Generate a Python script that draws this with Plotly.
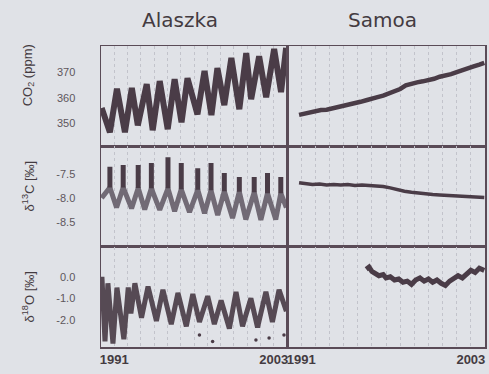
import plotly.graph_objects as go
from plotly.subplots import make_subplots

# ---------------- data ----------------
YEAR_TICKS = [1991, 2003]
CO2_TICKS = [350, 360, 370]
CO2_TICKTEXT = ["350", "360", "370"]
D13C_TICKS = [-8.5, -8.0, -7.5]
D13C_TICKTEXT = ["-8.5", "-8.0", "-7.5"]
D18O_TICKS = [-2.0, -1.0, 0.0]
D18O_TICKTEXT = ["-2.0", "-1.0", "0.0"]

STATIONS = ["Alaszka", "Samoa"]
ROW_TITLES = ["CO<sub>2</sub> (ppm)", "δ<sup>13</sup>C [‰]", "δ<sup>18</sup>O [‰]"]

# Alaska CO2 (ppm)
ALASKA_CO2_T = [1990.05, 1990.67, 1991.20, 1991.80, 1992.32, 1992.77, 1993.44, 1993.89,
                1994.42, 1995.02, 1995.54, 1996.06, 1996.51, 1997.26, 1997.79, 1998.31,
                1998.76, 1999.28, 1999.81, 2000.41, 2000.93, 2001.30, 2001.90, 2002.43,
                2003.03, 2003.55, 2003.93]
ALASKA_CO2 = [356.0, 346.5, 363.5, 346.5, 363.8, 349.2, 365.3, 347.3,
              366.5, 347.7, 367.2, 350.4, 367.6, 353.5, 370.4, 353.2,
              371.6, 357.1, 375.5, 355.5, 377.4, 359.4, 376.2, 360.2,
              379.0, 362.2, 379.5]

# Alaska d13C (per mil): seasonal band
ALASKA_D13C_T = [1990.05, 1990.67, 1991.17, 1991.67, 1992.30, 1992.80, 1993.29, 1993.79,
                 1994.42, 1995.04, 1995.54, 1996.04, 1996.66, 1997.28, 1997.79, 1998.28,
                 1998.78, 1999.28, 1999.90, 2000.41, 2000.90, 2001.53, 2002.03, 2002.53,
                 2003.15, 2003.53, 2003.95]
ALASKA_D13C = [-8.00, -7.78, -8.20, -7.78, -8.22, -7.79, -8.24, -7.80,
               -8.25, -7.80, -8.28, -7.82, -8.30, -7.83, -8.32, -7.84,
               -8.36, -7.86, -8.42, -7.87, -8.45, -7.88, -8.46, -7.90,
               -8.45, -7.90, -8.20]
# Alaska d13C summer spikes
ALASKA_SPIKE_T = [1990.67, 1991.67, 1992.80, 1993.79, 1995.04, 1996.04, 1997.28,
                  1998.28, 1999.28, 2000.41, 2001.53, 2002.53, 2003.53]
ALASKA_SPIKE_TOP = [-7.35, -7.31, -7.31, -7.27, -7.15, -7.27, -7.38,
                    -7.27, -7.48, -7.56, -7.56, -7.48, -7.56]
ALASKA_SPIKE_BASE = [-7.78, -7.78, -7.79, -7.80, -7.80, -7.82, -7.83,
                     -7.84, -7.86, -7.87, -7.88, -7.90, -7.90]

# Alaska d18O (per mil)
ALASKA_D18O_T = [1990.07, 1990.30, 1990.52, 1990.90, 1991.20, 1991.72, 1992.05, 1992.25,
                 1992.55, 1993.05, 1993.54, 1994.17, 1994.66, 1995.29, 1995.79, 1996.42,
                 1996.91, 1997.41, 1998.03, 1998.53, 1999.04, 1999.66, 2000.16, 2000.65,
                 2001.28, 2001.78, 2002.41, 2002.90, 2003.40, 2003.95]
ALASKA_D18O = [0.0, -3.0, -0.3, -3.1, -0.5, -2.9, -0.5, -1.7,
               -0.3, -1.9, -0.45, -2.05, -0.6, -2.2, -0.75, -2.3,
               -0.8, -2.1, -0.9, -2.2, -1.1, -2.4, -0.7, -2.3,
               -1.0, -2.35, -0.7, -2.1, -0.6, -1.6]
ALASKA_D18O_OUT_T = [1997.41, 1998.40, 2001.66, 2002.65, 2003.77]
ALASKA_D18O_OUT = [-2.7, -3.0, -2.93, -2.84, -2.7]

# Samoa CO2 (ppm)
SAMOA_CO2_T = [1990.85, 1991.2, 1991.6, 1992.0, 1992.4, 1992.8, 1993.2, 1993.6, 1994.0,
               1994.4, 1994.8, 1995.2, 1995.6, 1996.0, 1996.4, 1996.8, 1997.2, 1997.6,
               1998.0, 1998.4, 1998.8, 1999.2, 1999.6, 2000.0, 2000.4, 2000.8, 2001.2,
               2001.6, 2002.0, 2002.4, 2002.8, 2003.2, 2003.6, 2003.95]
SAMOA_CO2 = [353.3, 353.8, 354.2, 354.6, 355.2, 355.3, 355.8, 356.0, 356.6,
             357.3, 357.6, 358.4, 359.0, 359.8, 360.2, 360.8, 361.6, 362.3,
             363.4, 364.8, 365.6, 366.0, 366.4, 366.8, 367.4, 368.2, 368.6,
             369.2, 370.0, 370.6, 371.4, 372.2, 372.9, 373.6]

# Samoa d13C (per mil)
SAMOA_D13C_T = [1990.85, 1991.3, 1991.8, 1992.3, 1992.8, 1993.3, 1993.8, 1994.3, 1994.8,
                1995.3, 1995.8, 1996.3, 1996.8, 1997.3, 1997.8, 1998.3, 1998.8, 1999.3,
                1999.8, 2000.3, 2000.8, 2001.3, 2001.8, 2002.3, 2002.8, 2003.3, 2003.95]
SAMOA_D13C = [-7.68, -7.70, -7.72, -7.71, -7.73, -7.72, -7.73, -7.72, -7.74,
              -7.73, -7.74, -7.74, -7.76, -7.79, -7.83, -7.86, -7.88, -7.90,
              -7.92, -7.93, -7.94, -7.95, -7.96, -7.97, -7.97, -7.98, -7.99]

# Samoa d18O (per mil)
SAMOA_D18O_T = [1995.6, 1995.8, 1996.0, 1996.2, 1996.5, 1996.8, 1997.0, 1997.3, 1997.6,
                1997.9, 1998.2, 1998.5, 1998.8, 1999.1, 1999.4, 1999.7, 2000.0, 2000.3,
                2000.6, 2000.9, 2001.2, 2001.5, 2001.8, 2002.1, 2002.4, 2002.7, 2003.0,
                2003.3, 2003.6, 2003.95]
SAMOA_D18O = [0.35, 0.45, 0.25, 0.15, 0.05, 0.1, -0.05, 0.0, -0.15,
              -0.1, -0.25, -0.2, -0.35, -0.15, -0.05, -0.2, -0.1, -0.25,
              -0.15, -0.3, -0.4, -0.2, -0.05, 0.05, -0.05, 0.15, 0.3,
              0.2, 0.4, 0.3]

# ---------------- styling ----------------
BG = "#e0e2e7"
FRAME = "#5a4b57"
DARK = "#4a3c47"
BAND = "#716a75"
TEXT = "#443b41"

fig = make_subplots(rows=3, cols=2, horizontal_spacing=0, vertical_spacing=0,
                    column_widths=[187 / 386, 199 / 386])


def line(x, y, row, col, color=DARK, width=4.0):
    fig.add_trace(go.Scatter(x=x, y=y, mode="lines", showlegend=False,
                             line=dict(color=color, width=width, shape="linear"),
                             hoverinfo="skip"), row=row, col=col)


line(ALASKA_CO2_T, ALASKA_CO2, 1, 1, width=6)
line(ALASKA_D13C_T, ALASKA_D13C, 2, 1, color=BAND, width=5)
sx, sy = [], []
for t, lo, hi in zip(ALASKA_SPIKE_T, ALASKA_SPIKE_BASE, ALASKA_SPIKE_TOP):
    sx += [t, t, None]
    sy += [lo, hi, None]
line(sx, sy, 2, 1, width=5)
line(ALASKA_D18O_T, ALASKA_D18O, 3, 1, color="#564a54", width=5)
fig.add_trace(go.Scatter(x=ALASKA_D18O_OUT_T, y=ALASKA_D18O_OUT, mode="markers",
                         marker=dict(color=DARK, size=3.5), showlegend=False,
                         hoverinfo="skip"), row=3, col=1)

line(SAMOA_CO2_T, SAMOA_CO2, 1, 2, width=4.5)
line(SAMOA_D13C_T, SAMOA_D13C, 2, 2, width=3.5)
line(SAMOA_D18O_T, SAMOA_D18O, 3, 2, width=5.0)

ranges = [[341.0, 380.2], [-9.02, -6.92], [-3.26, 1.40]]
ticks = [(CO2_TICKS, CO2_TICKTEXT), (D13C_TICKS, D13C_TICKTEXT), (D18O_TICKS, D18O_TICKTEXT)]

for r in range(1, 4):
    for c in range(1, 3):
        fig.update_xaxes(
            row=r, col=c, range=[1990, 2004], showline=True, mirror=True,
            linecolor=FRAME, linewidth=1.5, zeroline=False, showgrid=False,
            tickvals=YEAR_TICKS, ticktext=[str(v) for v in YEAR_TICKS],
            showticklabels=(r == 3), ticks="",
            tickfont=dict(family="Liberation Sans", size=13, color=TEXT, weight="bold"),
            minor=dict(dtick=1, tick0=1990, showgrid=True, griddash="dot",
                       gridcolor="#c2c3cb", gridwidth=1, ticks=""),
        )
        fig.update_yaxes(
            row=r, col=c, range=ranges[r - 1], showline=True, mirror=True,
            linecolor=FRAME, linewidth=1.5, zeroline=False, showgrid=False,
            tickvals=ticks[r - 1][0], ticktext=ticks[r - 1][1],
            showticklabels=(c == 1), ticks="", ticklabelstandoff=22,
            tickfont=dict(family="Liberation Sans", size=11, color="#5e565c"),
        )

annotations = []
for name, xc in zip(STATIONS, [0.207, 0.733]):
    annotations.append(dict(text=name, x=xc, y=1.088, xref="paper", yref="paper",
                            showarrow=False, xanchor="center", yanchor="middle",
                            font=dict(family="DejaVu Sans", size=20, color=TEXT)))
for title, yc in zip(ROW_TITLES, [0.904, 0.535, 0.166]):
    annotations.append(dict(text=title, x=-0.189, y=yc, xref="paper", yref="paper",
                            showarrow=False, textangle=-90, xanchor="center",
                            yanchor="middle",
                            font=dict(family="Liberation Sans", size=13, color=TEXT)))

fig.update_layout(
    width=489, height=374, autosize=False,
    margin=dict(l=101, r=2, t=46, b=27),
    paper_bgcolor=BG, plot_bgcolor=BG,
    annotations=annotations, showlegend=False,
)

fig.write_html(
    "out.html",
    config={"displayModeBar": False, "staticPlot": True},
    post_script="document.body.style.margin='0';document.body.style.background='" + BG + "';",
)
